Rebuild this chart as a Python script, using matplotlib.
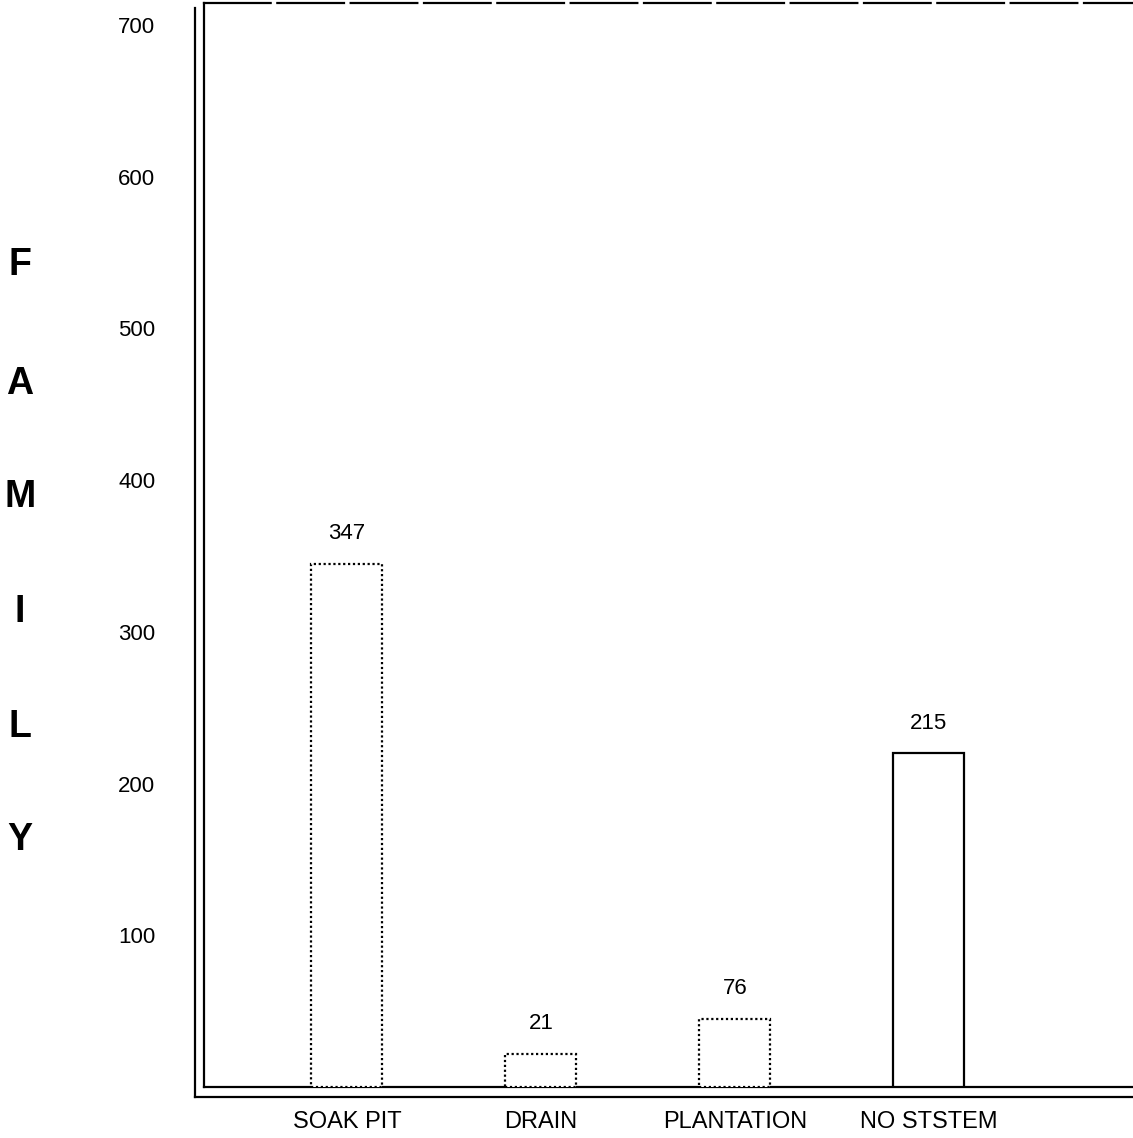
import matplotlib.pyplot as plt
from matplotlib.lines import Line2D

categories = ["SOAK PIT", "DRAIN", "PLANTATION", "NO STSTEM"]
heights = [345, 22, 45, 220]          # bar heights as drawn
value_labels = ["347", "21", "76", "215"]  # printed numbers
yticks = [100, 200, 300, 400, 500, 600, 700]
ylabel_letters = ["F", "A", "M", "I", "L", "Y"]

plt.rcParams['font.family'] = ['Liberation Sans', 'DejaVu Sans']

W, H = 1133, 1138
fig = plt.figure(figsize=(W / 100, H / 100), dpi=100)
ax = fig.add_axes([204 / W, 51 / H, 929 / W, 1084 / H])

x = list(range(len(categories)))
styles = [(0, (1, 1.2)), (0, (1, 1.2)), (0, (1, 1.2)), '-']
for xi, h, ls in zip(x, heights, styles):
    ax.bar(xi, h, width=0.366, facecolor='white', edgecolor='black',
           linewidth=1.6, linestyle=ls, zorder=3)
for xi, h, lab in zip(x, heights, value_labels):
    ax.text(xi, h + 13, lab, ha='center', va='bottom', fontsize=16)

ax.set_xlim(-0.737, 4.052)
ax.set_ylim(0, 714.5)
ax.set_yticks(yticks)
ax.set_yticklabels([str(t) for t in yticks], fontsize=16)
ax.set_xticks(x)
ax.set_xticklabels(categories, fontsize=17)
ax.tick_params(axis='y', length=0, pad=35)
ax.tick_params(axis='x', length=0, pad=17)

ax.spines['right'].set_visible(False)
ax.spines['left'].set_linewidth(1.6)
ax.spines['bottom'].set_linewidth(1.6)
ax.spines['top'].set_linewidth(1.6)
ax.spines['top'].set_linestyle((0, (30, 3)))

# outer lines of the double frame
fig.add_artist(Line2D([195 / W, 195 / W], [(H - 1097) / H, (H - 8) / H],
                      color='black', lw=1.6, transform=fig.transFigure))
fig.add_artist(Line2D([195 / W, 1.0], [(H - 1097) / H, (H - 1097) / H],
                      color='black', lw=1.6, transform=fig.transFigure))

# vertical axis title, one letter per line
ys = [265, 384, 497, 612, 727, 840]
for letter, yp in zip(ylabel_letters, ys):
    fig.text(20 / W, (H - yp) / H, letter, ha='center', va='center',
             fontsize=27, fontweight='bold')

fig.savefig("out.png", dpi=100)
